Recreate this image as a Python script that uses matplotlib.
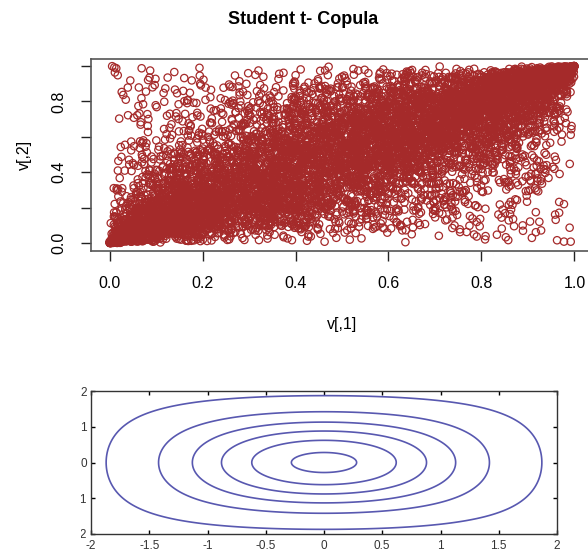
import math
import numpy as np
import matplotlib
matplotlib.use("Agg")
import matplotlib.pyplot as plt
from matplotlib.transforms import Bbox, TransformedBbox

# top panel: sample from a Student t copula (parameters)
n_points = 8000
rho_top = 0.78
nu_top = 3
seed = 11

# bottom panel: contour radii read where each curve crosses y = 0
contour_radii = [0.28, 0.62, 0.88, 1.13, 1.42, 1.87]
nu_bottom = 6

top_xticks = [0.0, 0.2, 0.4, 0.6, 0.8, 1.0]
top_yticks = [0.0, 0.2, 0.4, 0.6, 0.8, 1.0]
top_ylabels = ["0.0", "", "0.4", "", "0.8", ""]
bot_xticks = [-2, -1.5, -1, -0.5, 0, 0.5, 1, 1.5, 2]
bot_xlabels = ["-2", "-1.5", "-1", "-0.5", "0", "0.5", "1", "1.5", "2"]
bot_yticks = [-2, -1, 0, 1, 2]
bot_ylabels = ["-2", "-1", "0", "1", "2"]

BROWN = "#a52a2a"
BLUE = "#5858b0"
W, H = 588, 559


def t_table(nu):
    # cdf of t via t = sqrt(nu) * tan(theta), density ~ cos(theta)^(nu-1)
    th = np.linspace(0, np.pi / 2, 20001)
    g = np.cos(th) ** (nu - 1)
    cum = np.concatenate([[0], np.cumsum((g[1:] + g[:-1]) / 2 * np.diff(th))])
    return th, 0.5 * cum / cum[-1]


def t_cdf(t, nu):
    th, half = t_table(nu)
    ang = np.arctan(np.abs(t) / np.sqrt(nu))
    return 0.5 + np.sign(t) * np.interp(ang, th, half)


def t_ppf(p, nu):
    th, half = t_table(nu)
    ang = np.interp(np.abs(p - 0.5), half, th)
    return np.sign(p - 0.5) * np.sqrt(nu) * np.tan(ang)


phi_cdf = np.vectorize(lambda x: 0.5 * (1 + math.erf(x / math.sqrt(2))))


def log_density(x, y, nu):
    a = t_ppf(phi_cdf(x), nu)
    b = t_ppf(phi_cdf(y), nu)
    return (-(nu + 2) / 2 * np.log1p((a**2 + b**2) / nu)
            + (nu + 1) / 2 * (np.log1p(a**2 / nu) + np.log1p(b**2 / nu))
            - (x**2 + y**2) / 2)


# sample for the scatter
rng = np.random.default_rng(seed)
z = rng.standard_normal((n_points, 2))
chol = np.linalg.cholesky(np.array([[1, rho_top], [rho_top, 1]]))
z = z @ chol.T
w = rng.chisquare(nu_top, n_points) / nu_top
v = t_cdf(z / np.sqrt(w)[:, None], nu_top)

fig = plt.figure(figsize=(W / 100, H / 100), dpi=100)
plt.rcParams["font.family"] = ["Liberation Sans", "DejaVu Sans"]

# ---- top panel (R style)
ax1 = fig.add_axes([91 / W, 1 - 251 / H, (593 - 91) / W, 192 / H])
ax1.scatter(v[:, 0], v[:, 1], s=28, facecolors="none", edgecolors=BROWN,
            linewidths=0.9)
ax1.set_xlim(-0.04, 1.04)
ax1.set_ylim(-0.045, 1.04)
ax1.set_xticks(top_xticks)
ax1.set_xticklabels([f"{t:.1f}" for t in top_xticks], fontsize=11.5)
ax1.set_yticks(top_yticks)
ax1.set_yticklabels(top_ylabels, fontsize=11.5, rotation=90, va="center")
ax1.tick_params(direction="out", length=7, width=1, color="#222222", pad=11)
ax1.tick_params(axis="y", pad=11)
for s in ax1.spines.values():
    s.set_color("#555555")
    s.set_linewidth(1.2)
fig.text(303 / W, 1 - 19 / H, "Student t- Copula", ha="center", va="center",
         fontsize=13, fontweight="bold")
fig.text(342 / W, 1 - 325 / H, "v[,1]", ha="center", va="center", fontsize=11.5)
fig.text(24 / W, 1 - 155 / H, "v[,2]", ha="center", va="center", fontsize=11.5,
         rotation=90)

# ---- bottom panel (contours)
ax2 = fig.add_axes([91 / W, 1 - 534 / H, 466 / W, 143 / H])
gx = np.linspace(-2, 2, 401)
X, Y = np.meshgrid(gx, gx)
F = log_density(X, Y, nu_bottom)
r = np.array(contour_radii)
levels = np.sort(log_density(r, np.zeros_like(r), nu_bottom))
ax2.contour(X, Y, F, levels=levels, colors=BLUE, linewidths=1.2,
            linestyles="solid")
ax2.set_xlim(-2, 2)
ax2.set_ylim(-2, 2)
ax2.set_xticks(bot_xticks)
ax2.set_xticklabels(bot_xlabels, fontsize=8.5, color="#333333")
ax2.set_yticks(bot_yticks)
ax2.set_yticklabels(bot_ylabels, fontsize=8.5, color="#333333")
ax2.tick_params(direction="in", length=3, width=1, top=True, right=True, pad=4)
ax2.tick_params(axis="y", pad=3)
for s in ax2.spines.values():
    s.set_color("#333333")
    s.set_linewidth(1.0)
# the y labels are cut at the left edge of the source picture
clip = TransformedBbox(Bbox.from_extents(80.5 / W, 0, 1, 1), fig.transFigure)
for tk in ax2.yaxis.get_major_ticks():
    tk.label1.set_clip_on(True)
    tk.label1.set_clip_box(clip)

fig.savefig("out.png", dpi=100)
